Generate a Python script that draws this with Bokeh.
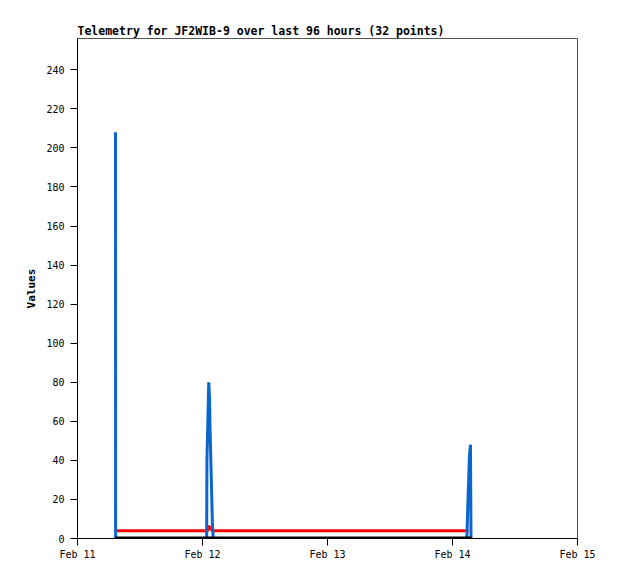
import pandas as pd
from bokeh.plotting import figure
from bokeh.models import FixedTicker, DatetimeTickFormatter, Range1d
from bokeh.embed import file_html
from bokeh.resources import INLINE

# Blue series (values)
blue_times = ["2024-02-11 07:18", "2024-02-11 07:19",
              "2024-02-12 00:48", "2024-02-12 00:51", "2024-02-12 01:12", "2024-02-12 01:21",
              "2024-02-12 01:27", "2024-02-12 01:36", "2024-02-12 01:45", "2024-02-12 01:54",
              "2024-02-12 02:03",
              "2024-02-14 02:45", "2024-02-14 02:48", "2024-02-14 02:57", "2024-02-14 03:06",
              "2024-02-14 03:15", "2024-02-14 03:27", "2024-02-14 03:33"]
blue_values = [208, 0,
               0, 40, 80, 72,
               56, 40, 24, 8,
               0,
               0, 4, 18, 30,
               42, 48, 0]

# Red series
red_times = ["2024-02-11 07:18", "2024-02-12 01:00", "2024-02-12 01:12",
             "2024-02-12 01:30", "2024-02-12 01:54", "2024-02-14 03:06"]
red_values = [4, 4, 6.5, 5, 4, 4]

# Black series
black_times = ["2024-02-11 07:18", "2024-02-14 03:36"]
black_values = [0, 0]

x_ticks = ["2024-02-11", "2024-02-12", "2024-02-13", "2024-02-14", "2024-02-15"]
y_ticks = [0, 20, 40, 60, 80, 100, 120, 140, 160, 180, 200, 220, 240]

MONO = "DejaVu Sans Mono"

xt = pd.to_datetime(x_ticks)
p = figure(width=610, height=571, x_axis_type="datetime",
           output_backend="svg", toolbar_location=None,
           x_range=Range1d(xt[0], xt[-1]), y_range=Range1d(0, 256),
           min_border_left=77, min_border_right=33, min_border_top=38, min_border_bottom=33,
           title="Telemetry for JF2WIB-9 over last 96 hours (32 points)")

p.title.text_font = MONO
p.title.text_font_size = "11.5px"
p.title.text_font_style = "bold"
p.title.text_color = "#000000"
p.title.align = "left"
p.title.offset = 0
p.title.standoff = 2

p.grid.visible = False
p.outline_line_color = "#555555"
p.outline_line_width = 1
p.background_fill_color = "white"
p.border_fill_color = "white"

p.line(pd.to_datetime(red_times), red_values, line_color="#ff0000", line_width=3)
p.line(pd.to_datetime(blue_times), blue_values, line_color="#0a66cc", line_width=3)
p.line(pd.to_datetime(black_times), black_values, line_color="#000000", line_width=4)

p.xaxis.ticker = FixedTicker(ticks=[t.value // 10**6 for t in xt])
p.xaxis.formatter = DatetimeTickFormatter(days="%b %d", months="%b %d", hours="%b %d",
                                          years="%b %d")
p.yaxis.ticker = FixedTicker(ticks=y_ticks)
p.yaxis.axis_label = "Values"

for ax in (p.xaxis[0], p.yaxis[0]):
    ax.major_label_text_font = MONO
    ax.major_label_text_font_size = "10px"
    ax.major_label_text_color = "#000000"
    ax.axis_line_color = "#000000"
    ax.major_tick_line_color = "#000000"
    ax.major_tick_in = 0
    ax.major_tick_out = 7
    ax.minor_tick_line_color = None
    ax.axis_label_text_font = MONO
    ax.axis_label_text_font_size = "11px"
    ax.axis_label_text_font_style = "bold"
    ax.axis_label_text_color = "#000000"

p.xaxis.major_label_standoff = 3
p.yaxis.major_label_standoff = 6
p.yaxis.axis_label_standoff = 5

open("out.html", "w").write(file_html(p, INLINE))
